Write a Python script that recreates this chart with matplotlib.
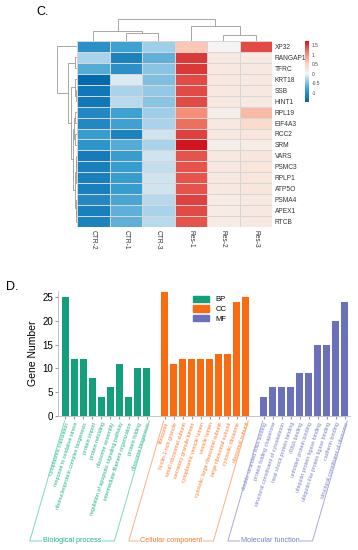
import matplotlib
matplotlib.use("Agg")
import matplotlib.pyplot as plt
import numpy as np
from matplotlib.colors import LinearSegmentedColormap, Normalize
from matplotlib.transforms import blended_transform_factory
from matplotlib.patches import Patch

plt.rcParams['font.family'] = ['Liberation Sans', 'DejaVu Sans']

# ---------------- heatmap data ----------------
genes = ["XP32", "RANGAP1", "TFRC", "KRT18", "SSB", "HINT1", "RPL19", "EIF4A3",
         "RCC2", "SRM", "VARS", "PSMC3", "RPLP1", "ATP5O", "PSMA4", "APEX1", "RTCB"]
samples = ["CTR-2", "CTR-1", "CTR-3", "Res-1", "Res-2", "Res-3"]
ctr2 = [-1.00, -0.30, -0.70, -1.45, -1.30, -1.30, -1.10, -1.10, -0.85, -0.95,
        -1.25, -1.20, -1.20, -1.20, -1.10, -1.20, -1.15]
ctr1 = [-0.80, -1.15, -1.00, -0.10, -0.30, -0.25, -0.80, -0.80, -1.15, -0.70,
        -0.85, -0.85, -0.85, -0.85, -0.75, -0.65, -0.65]
ctr3 = [-0.35, -0.65, -0.45, -0.50, -0.40, -0.45, -0.35, -0.30, -0.15, -0.30,
        -0.15, -0.20, -0.15, -0.15, -0.25, -0.30, -0.25]
res1 = [0.60, 1.50, 1.50, 1.40, 1.40, 1.40, 1.00, 1.20, 1.45, 1.70,
        1.35, 1.35, 1.35, 1.35, 1.45, 1.40, 1.35]
res2 = [0.00, 0.20, 0.20, 0.20, 0.20, 0.20, 0.10, 0.20, 0.20, 0.10,
        0.20, 0.20, 0.20, 0.20, 0.15, 0.15, 0.15]
res3 = [1.40, 0.20, 0.20, 0.20, 0.20, 0.20, 0.70, 0.40, 0.25, 0.15,
        0.25, 0.25, 0.25, 0.25, 0.20, 0.20, 0.20]
cbar_ticks = [-1, -0.5, 0, 0.5, 1, 1.5]

# dendrogram trees (leaf index, or (left, right, merge height))
col_tree = ((0, (1, 2, 8), 10), (3, (4, 5, 6), 15), 22)
row_a = (1, 2, 2.0)
row_b = (3, (4, 5, 1.0), 2.2)
row_c = ((6, 7, 1.8), (8, 9, 2.5), 3.0)
row_d = (((10, 11, 0.6), (12, 13, 0.5), 1.0), (14, (15, 16, 0.8), 1.3), 1.8)
row_tree = (0, (row_a, (row_b, (row_c, row_d, 3.6), 6.3), 8.7), 20)

# ---------------- GO bar data ----------------
bp_terms = ["cytoplasmic translation", "response to oxidative stress",
            "ribonucleoprotein complex biogenesis", "protein import",
            "protein refolding", "ribosome assembly",
            "regulation of apoptotic signaling pathway",
            "intermediate filament organization", "protein folding",
            "ribosome biogenesis"]
bp_counts = [25, 12, 12, 8, 4, 6, 11, 4, 10, 10]
cc_terms = ["ribosome", "ficolin-1-rich granule", "small ribosomal subunit",
            "secretory granule lumen", "cytoplasmic vesicle lumen", "vesicle lumen",
            "cytosolic large ribosomal subunit", "large ribosomal subunit",
            "cytosolic ribosome", "ribosomal subunit"]
cc_counts = [26, 11, 12, 12, 12, 12, 13, 13, 24, 25]
mf_terms = ["double-stranded RNA binding", "protein folding chaperone",
            "structural constituent of cytoskeleton", "heat shock protein binding",
            "rRNA binding", "unfolded protein binding",
            "ubiquitin protein ligase binding", "ubiquitin-like protein ligase binding",
            "cadherin binding", "structural constituent of ribosome"]
mf_counts = [4, 6, 6, 6, 9, 9, 15, 15, 20, 24]
groups = ["BP", "CC", "MF"]
group_names = ["Biological process", "Cellular component", "Molecular function"]

# ---------------- figure ----------------
W, H = 358, 550
fig = plt.figure(figsize=(W / 100, H / 100), dpi=100)


def px_axes(x0, y0, x1, y1):
    return fig.add_axes([x0 / W, 1 - y1 / H, (x1 - x0) / W, (y1 - y0) / H])


vals = np.array([ctr2, ctr1, ctr3, res1, res2, res3]).T
vmin, vmax = -1.49, 1.71
w0 = (0 - vmin) / (vmax - vmin)
cmap = LinearSegmentedColormap.from_list(
    "ph", [(0.0, "#0067ae"), (w0 * 0.45, "#3a9fd0"), (w0 * 0.8, "#a9d3ea"),
           (w0, "#f4f4f4"), (w0 + (1 - w0) * 0.3, "#fcd5c3"),
           (w0 + (1 - w0) * 0.65, "#f4806a"), (1.0, "#d2141f")])
norm = Normalize(vmin, vmax)

hx0, hy0, hx1, hy1 = 77, 41, 272, 227
axh = px_axes(hx0, hy0, hx1, hy1)
axh.pcolormesh(np.arange(len(samples) + 1), np.arange(len(genes) + 1), vals,
               cmap=cmap, norm=norm, edgecolor="#d6d6d6", linewidth=0.4)
axh.set_xlim(0, len(samples))
axh.set_ylim(len(genes), 0)
axh.set_xticks(np.arange(len(samples)) + 0.5)
axh.set_xticklabels(samples, rotation=270, fontsize=4.8, color="#333333")
axh.set_yticks(np.arange(len(genes)) + 0.5)
axh.set_yticklabels(genes, fontsize=4.8, color="#333333")
axh.yaxis.tick_right()
axh.tick_params(length=0, pad=2)
for s in axh.spines.values():
    s.set_visible(False)


def draw_tree(ax, node, vertical):
    if not isinstance(node, tuple):
        return node + 0.5, 0
    l, r, h = node
    pl, hl = draw_tree(ax, l, vertical)
    pr, hr = draw_tree(ax, r, vertical)
    if vertical:
        ax.plot([pl, pl, pr, pr], [hl, h, h, hr], color="#9a9a9a", lw=0.6,
                solid_joinstyle="miter")
    else:
        ax.plot([hl, h, h, hr], [pl, pl, pr, pr], color="#9a9a9a", lw=0.6,
                solid_joinstyle="miter")
    return (pl + pr) / 2, h


axc = px_axes(hx0, 17, hx1, hy0)
draw_tree(axc, col_tree, True)
axc.set_xlim(0, len(samples))
axc.set_ylim(0, 24)
axc.axis("off")

axr = px_axes(53, hy0, hx0, hy1)
draw_tree(axr, row_tree, False)
axr.set_xlim(24, 0)
axr.set_ylim(len(genes), 0)
axr.axis("off")

axcb = px_axes(305, 41, 309, 102)
cb = fig.colorbar(plt.cm.ScalarMappable(norm=norm, cmap=cmap), cax=axcb,
                  ticks=cbar_ticks)
cb.ax.set_yticklabels([("%g" % t) for t in cbar_ticks])
cb.ax.tick_params(labelsize=3.5, length=0, pad=2, colors="#444444")
cb.outline.set_visible(False)

fig.text(36 / W, 1 - 12 / H, "C.", fontsize=9, va="center")
fig.text(6 / W, 1 - 287 / H, "D.", fontsize=9, va="center")

# ---------------- bar chart ----------------
bar_colors = ["#11a07b", "#fa6a10", "#6a70b9"]
line_colors = ["#7fd8c0", "#fcb08a", "#a7aadb"]
text_colors = ["#22b08b", "#fb7a2a", "#7a80c4"]

bx0, by0, bx1, by1 = 58, 291, 350, 416
axb = px_axes(bx0, by0, bx1, by1)
pitch = 9.0
all_counts = [bp_counts, cc_counts, mf_counts]
all_terms = [bp_terms, cc_terms, mf_terms]
positions = []
tick_pos, tick_lab, tick_col = [], [], []
start = 0
for gi, (counts, terms) in enumerate(zip(all_counts, all_terms)):
    pos = np.arange(len(counts)) + start
    positions.append(pos)
    axb.bar(pos, counts, width=0.8, color=bar_colors[gi], label=groups[gi])
    tick_pos += list(pos)
    tick_lab += terms
    tick_col += [text_colors[gi]] * len(terms)
    start += len(counts) + 1

axb.set_xlim(-0.83, 31.6)
axb.set_ylim(0, 26.3)
axb.set_yticks([0, 5, 10, 15, 20, 25])
axb.tick_params(axis="y", labelsize=7, length=2, color="#999999", pad=1.5)
axb.set_xticks(tick_pos)
axb.set_xticklabels(tick_lab, rotation=72, ha="right", va="top",
                    rotation_mode="anchor", fontsize=3.9)
for lab, c in zip(axb.get_xticklabels(), tick_col):
    lab.set_color(c)
axb.tick_params(axis="x", length=2, color="#999999", pad=2)
axb.set_ylabel("Gene Number", fontsize=7.5, labelpad=3)
for s in ["top", "right"]:
    axb.spines[s].set_visible(False)
axb.spines["left"].set_color("#bbbbbb")
axb.spines["bottom"].set_color("#bbbbbb")
axb.spines["left"].set_linewidth(0.6)
axb.spines["bottom"].set_linewidth(0.6)

leg = axb.legend(handles=[Patch(color=c, label=g) for c, g in zip(bar_colors, groups)],
                 loc="upper left", bbox_to_anchor=((188 - bx0) / (bx1 - bx0), 1.0),
                 frameon=False, fontsize=5.5, handlelength=2.2, handleheight=0.9,
                 labelspacing=0.25, handletextpad=0.8, borderaxespad=0.2)

# group brackets (parallelograms)
trans = blended_transform_factory(axb.transData, axb.transAxes)
ah = by1 - by0
y_top = -5 / ah
y_bot = -(541 - by1) / ah
shift = (541 - 421) * 0.29 / pitch
for gi, pos in enumerate(positions):
    xl = pos[0] - 0.1
    xr = pos[-1] + 0.3
    xs = [xl, xl - shift, xr - shift, xr]
    ys = [y_top, y_bot, y_bot, y_top]
    axb.plot(xs, ys, transform=trans, clip_on=False, color=line_colors[gi], lw=0.7)
    axb.text((xl + xr) / 2 - shift, y_bot, group_names[gi], transform=trans,
             ha="center", va="center", fontsize=5.2, color=text_colors[gi],
             bbox=dict(facecolor="white", edgecolor="none", pad=0.3))

fig.savefig("out.png", dpi=100)
